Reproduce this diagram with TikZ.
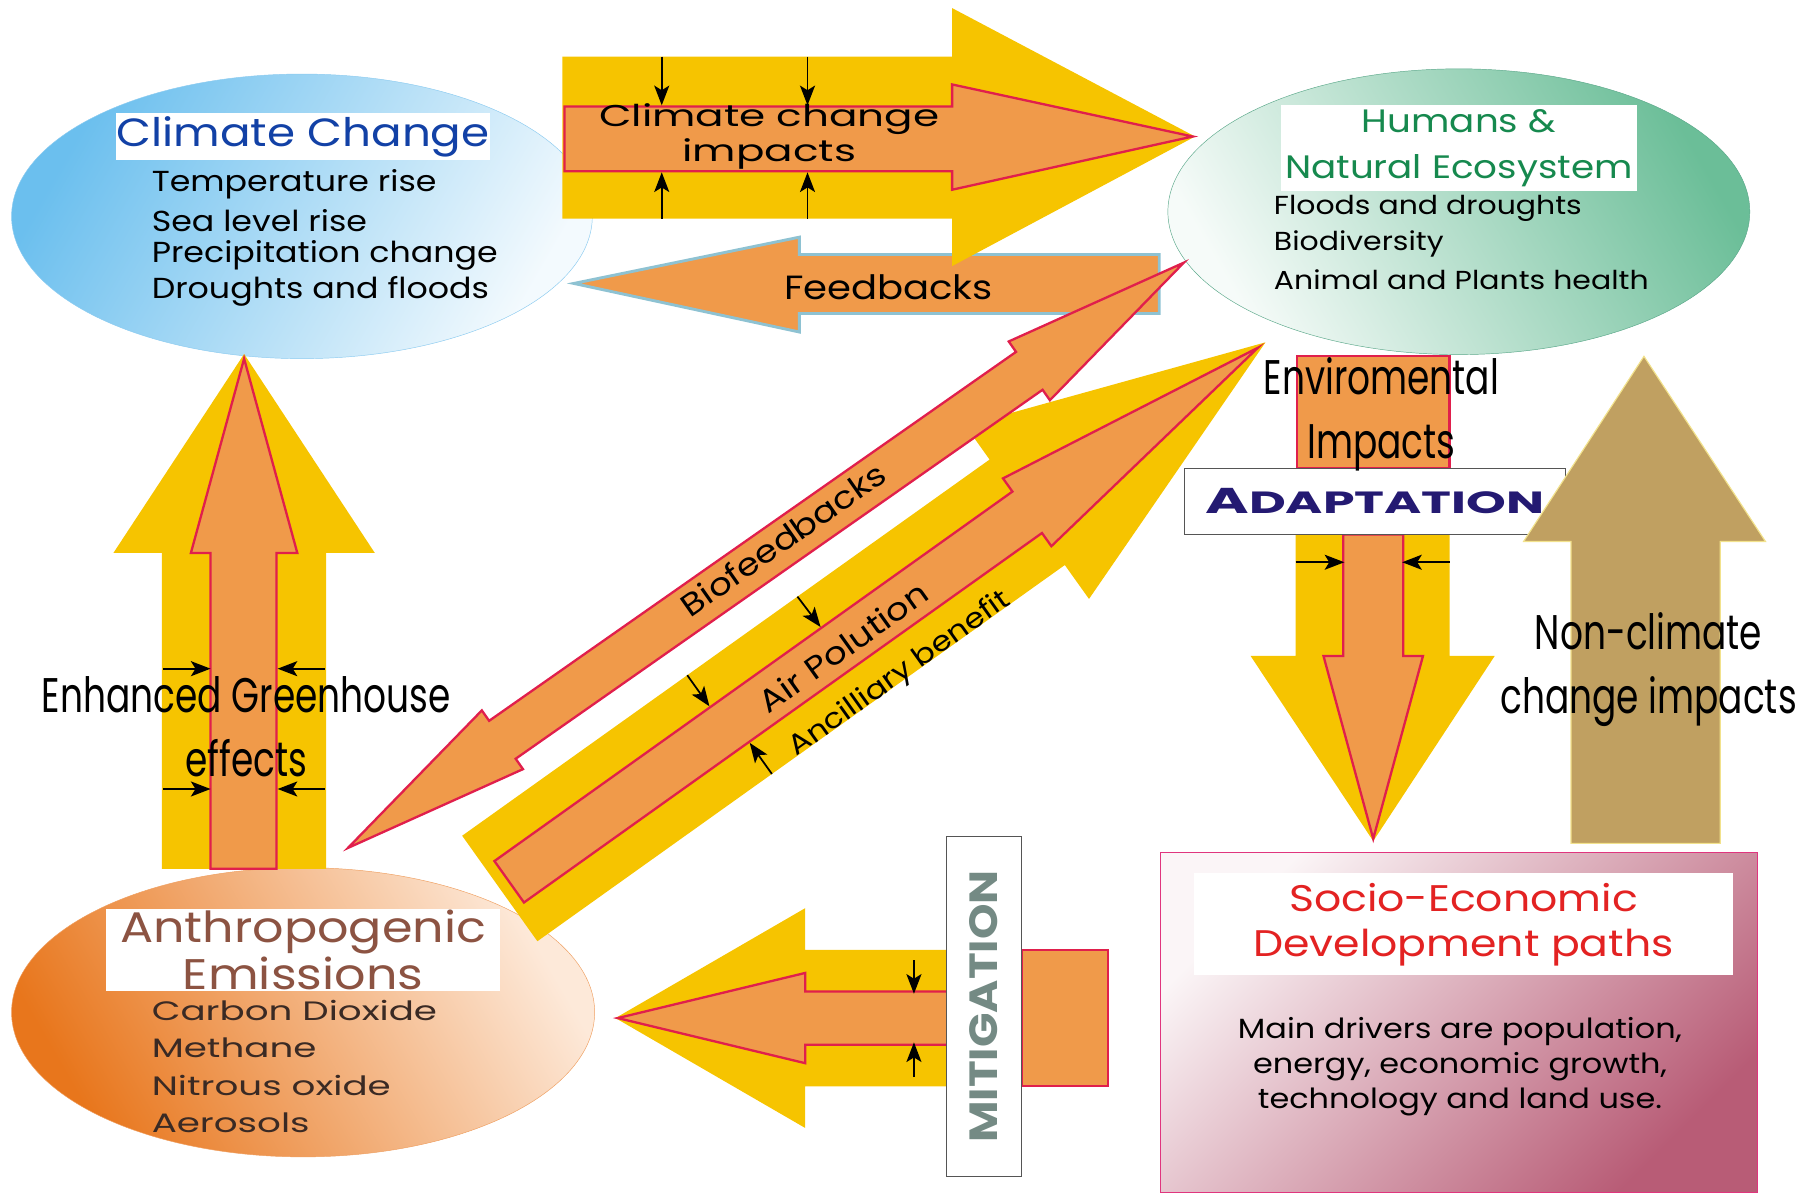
\documentclass[tikz,border=0pt]{standalone}
\usepackage{fontspec}
\newfontfamily\gothic{Poppins}[FakeStretch=1.15]
\newfontfamily\wide{Poppins}[FakeStretch=1.4]
\newfontfamily\narrow{Poppins}[FakeStretch=0.74]
\newfontfamily\plate{Poppins}[FakeStretch=1.65]
\usetikzlibrary{shapes.geometric,arrows.meta}

\definecolor{arrowyellow}{HTML}{F6C400}
\definecolor{arroworange}{HTML}{F09A4A}
\definecolor{arrowred}{HTML}{E01F4C}
\definecolor{tanbrown}{HTML}{C0A061}
\definecolor{tanedge}{HTML}{F2E28C}
\definecolor{skyblue}{HTML}{6BBFEE}
\definecolor{skyedge}{HTML}{8CCBF0}
\definecolor{seagreen}{HTML}{6BBE98}
\definecolor{seaedge}{HTML}{5BA88A}
\definecolor{deeporange}{HTML}{E8761C}
\definecolor{peach}{HTML}{FDE9D9}
\definecolor{rose}{HTML}{B85C76}
\definecolor{roseedge}{HTML}{E0357E}
\definecolor{ccblue}{HTML}{1241A6}
\definecolor{natgreen}{HTML}{16894E}
\definecolor{anthbrown}{HTML}{8C5342}
\definecolor{anthtext}{HTML}{3A2A24}
\definecolor{sociored}{HTML}{E32222}
\definecolor{navy}{HTML}{241A72}
\definecolor{mitgrey}{HTML}{748A84}
\definecolor{boxgrey}{HTML}{555555}
\definecolor{feedblue}{HTML}{8EC2D2}

\begin{document}
\begin{tikzpicture}[x=1pt, y=-1pt,
  yellowarrow/.style={fill=arrowyellow},
  innerarrow/.style={fill=arroworange, draw=arrowred, line width=2pt},
  pinch/.style={-{Stealth[length=17pt, width=13pt, inset=4pt]}, line width=1.5pt},
  titlebox/.style={fill=white, inner sep=0pt, align=center},
  item/.style={anchor=west, inner sep=0pt, font=\gothic\fontsize{25}{27}\selectfont},
  bigtext/.style={inner sep=0pt, align=center, font=\narrow\fontsize{42}{55}\selectfont}]
  \useasboundingbox (0,0) rectangle (1568,1032);

  % Climate Change
  \node[ellipse, minimum width=502pt, minimum height=246pt, draw=skyedge,
    top color=skyblue, bottom color=skyblue!8, shading angle=60] (climate) at (261,187) {};
  \node[titlebox, minimum width=323pt, minimum height=40pt, text=ccblue,
    font=\gothic\fontsize{34}{40}\selectfont] (cctitle) at (262,118) {Climate Change};
  \foreach \txt [count=\i] in {Temperature rise, Sea level rise, Precipitation change, Droughts and floods}
    \node[item] (cc\i) at (131,{129+30.7*\i}) {\txt};

  % Humans & Natural Ecosystem
  \node[ellipse, minimum width=503pt, minimum height=247pt, draw=seaedge,
    top color=seagreen, bottom color=seagreen!6, shading angle=-60] (humans) at (1261,183) {};
  \node[titlebox, minimum width=308pt, minimum height=75pt, text=natgreen,
    font=\gothic\fontsize{28}{40}\selectfont] (hnetitle) at (1261,128) {Humans \&\\Natural Ecosystem};
  \foreach \txt [count=\i] in {Floods and droughts, Biodiversity, Animal and Plants health}
    \node[item, font=\gothic\fontsize{22.5}{27}\selectfont] (hne\i) at (1101,{150+30.5*\i}) {\txt};

  % Anthropogenic Emissions
  \node[ellipse, minimum width=504pt, minimum height=250pt, draw=deeporange!70,
    top color=peach, bottom color=deeporange, shading angle=-60] (anthro) at (262,875) {};
  \node[titlebox, minimum width=340pt, minimum height=71pt, text=anthbrown,
    font=\gothic\fontsize{37}{41}\selectfont] (aetitle) at (262,821) {Anthropogenic\\Emissions};
  \foreach \txt [count=\i] in {Carbon Dioxide, Methane, Nitrous oxide, Aerosols}
    \node[item, text=anthtext, font=\wide\fontsize{23}{27}\selectfont] (ae\i) at (131,{841+32.3*\i}) {\txt};

  % Socio-Economic Development paths
  \node[minimum width=516pt, minimum height=294pt, draw=roseedge, line width=1.2pt,
    top color=rose!6, bottom color=rose, shading angle=45] (socio) at (1261,884) {};
  \node[titlebox, minimum width=466pt, minimum height=88pt, text=sociored,
    font=\gothic\fontsize{32}{39}\selectfont] (setitle) at (1265,799) {Socio-Economic\\Development paths};
  \node[align=center, font=\gothic\fontsize{24}{30.5}\selectfont] (drivers) at (1262,922)
    {Main drivers are population,\\energy, economic growth,\\technology and land use.};

  % Feedbacks
  \draw[fill=arroworange, draw=feedblue, line width=2.5pt] (1002,220) -- (691,220) -- (691,205)
    -- (496,245) -- (691,287) -- (691,271) -- (1002,271) -- cycle;
  \node[font=\gothic\fontsize{29}{30}\selectfont] (feedtext) at (768,248) {Feedbacks};

  % Climate change impacts
  \fill[yellowarrow] (486,49) -- (823,49) -- (823,7) -- (1033,118) -- (823,230) -- (823,189) -- (486,189) -- cycle;
  \draw[innerarrow] (488,92) -- (823,92) -- (823,73) -- (1031,118) -- (823,164) -- (823,148) -- (488,148) -- cycle;
  \foreach \x in {572,698} {
    \draw[pinch] (\x,49) -- (\x,91);
    \draw[pinch] (\x,189) -- (\x,149);
  }
  \node[align=center, font=\wide\fontsize{26}{31}\selectfont] (impacts) at (665,118) {Climate change\\impacts};

  % Enhanced Greenhouse effects
  \fill[yellowarrow] (140,751) -- (140,478) -- (98,478) -- (211,306) -- (324,478) -- (282,478) -- (282,751) -- cycle;
  \draw[innerarrow] (182,751) -- (182,478) -- (165,478) -- (211,310) -- (257,478) -- (239,478) -- (239,751) -- cycle;
  \foreach \y in {578,682} {
    \draw[pinch] (141,\y) -- (182,\y);
    \draw[pinch] (281,\y) -- (240,\y);
  }
  \node[bigtext] (greenhouse) at (213,628) {Enhanced Greenhouse\\effects};

  % Air Polution / Ancilliary benefit
  \begin{scope}[shift={(432,768)}, rotate=35.5]
    \fill[yellowarrow] (0,-56) -- (560,-56) -- (560,-92) -- (813,0) -- (560,92) -- (560,56) -- (0,56) -- cycle;
    \draw[innerarrow] (10,-22) -- (560,-22) -- (560,-36) -- (805,0) -- (560,36) -- (560,22) -- (10,22) -- cycle;
    \draw[pinch] (356,-56) -- (357,-23);
    \draw[pinch] (239,-56) -- (239,-23);
    \draw[pinch] (249,56) -- (249,23);
  \end{scope}
  \node[rotate=35.5, font=\gothic\fontsize{27}{30}\selectfont] (pollution) at (729,559) {Air Polution};
  \node[rotate=35.5, font=\gothic\fontsize{24}{28}\selectfont] (ancillary) at (778,583) {Ancilliary benefit};

  % Biofeedbacks (two heads)
  \begin{scope}[shift={(662,480)}, rotate=35]
    \draw[innerarrow] (-441,0) -- (-278,-31) -- (-278,-20) -- (278,-20) -- (278,-31) -- (441,0)
      -- (278,31) -- (278,20) -- (-278,20) -- (-278,31) -- cycle;
  \end{scope}
  \node[rotate=35, font=\gothic\fontsize{27}{30}\selectfont] (biotext) at (677,466) {Biofeedbacks};

  % Enviromental Impacts and Adaptation
  \draw[innerarrow] (1121,308) rectangle (1253,405);
  \fill[yellowarrow] (1120,462) -- (1253,462) -- (1253,567) -- (1292,567) -- (1187,727) -- (1081,567) -- (1120,567) -- cycle;
  \draw[innerarrow] (1161,462) -- (1213,462) -- (1213,567) -- (1230,567) -- (1187,725) -- (1144,567) -- (1161,567) -- cycle;
  \draw[pinch] (1120,486) -- (1162,486);
  \draw[pinch] (1253,486) -- (1212,486);
  \node[draw=boxgrey, fill=white, line width=1pt, minimum width=329pt, minimum height=57pt, inner sep=0pt,
    text=navy, font=\plate\bfseries] (adaptation) at (1188.5,433.5)
    {\fontsize{31}{31}\selectfont A\fontsize{26.5}{31}\selectfont DAPTATION};
  \node[bigtext] (envimpacts) at (1194,358) {Enviromental\\Impacts};

  % Non-climate change impacts
  \draw[fill=tanbrown, draw=tanedge, line width=1pt] (1358,729) -- (1358,468) -- (1317,468) -- (1421,308)
    -- (1526,468) -- (1487,468) -- (1487,729) -- cycle;
  \node[bigtext] (nonclimate) at (1425,579) {Non-climate\\change impacts};

  % Mitigation
  \fill[yellowarrow] (818,821) -- (696,821) -- (696,785) -- (532,880) -- (696,975) -- (696,939) -- (818,939) -- cycle;
  \draw[innerarrow] (818,857) -- (696,857) -- (696,841) -- (534,880) -- (696,919) -- (696,903) -- (818,903);
  \draw[innerarrow] (883,821) rectangle (958,939);
  \draw[pinch] (790,830) -- (790,859);
  \draw[pinch] (790,931) -- (790,901);
  \node[draw=boxgrey, fill=white, line width=1pt, rotate=90, minimum width=294pt, minimum height=65pt,
    inner sep=0pt, text=mitgrey, font=\gothic\bfseries\fontsize{34}{36}\selectfont] (mitigation) at (850.5,870) {MITIGATION};
\end{tikzpicture}
\end{document}
